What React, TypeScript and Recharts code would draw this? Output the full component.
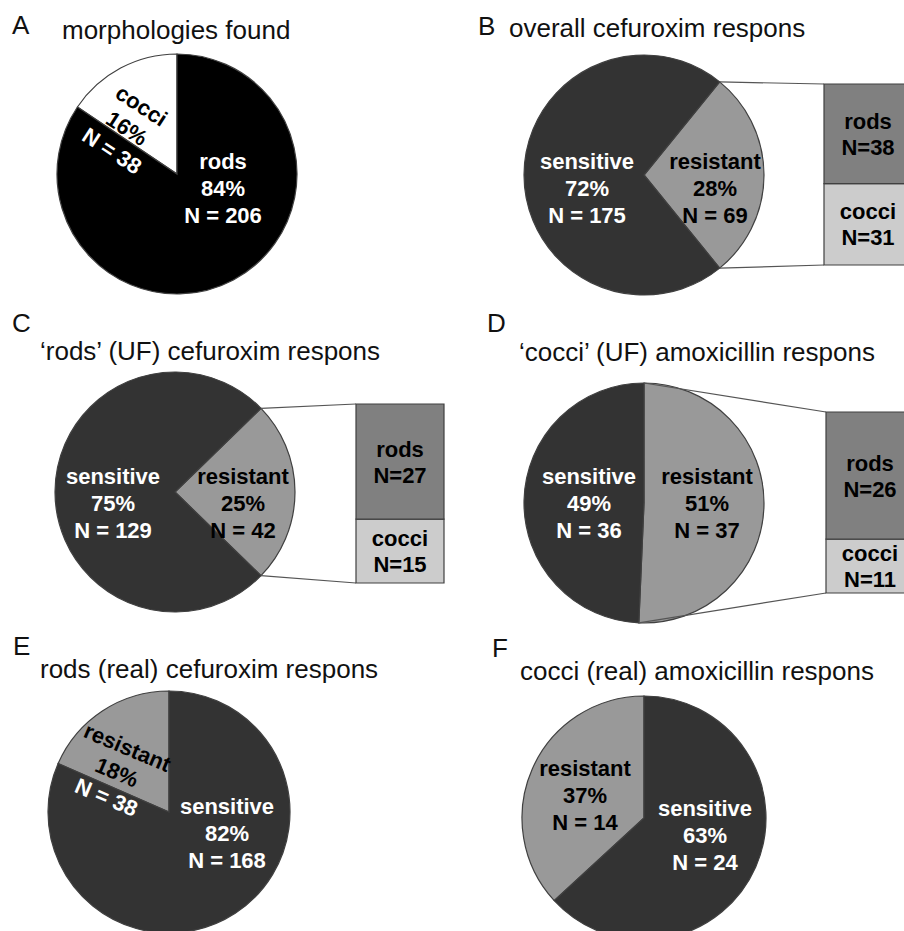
import React from 'react';
import { PieChart, Pie, Cell, BarChart, Bar, XAxis, YAxis, LabelList } from 'recharts';

const panelLetters = ['A', 'B', 'C', 'D', 'E', 'F'];
const panelTitles = [
  'morphologies found',
  'overall cefuroxim respons',
  '\u2018rods\u2019 (UF) cefuroxim respons',
  '\u2018cocci\u2019 (UF) amoxicillin respons',
  'rods (real) cefuroxim respons',
  'cocci (real) amoxicillin respons',
];

const morphologyNames = ['cocci', 'rods'];
const morphologyCounts = [38, 206];
const responseNames = ['resistant', 'sensitive'];
const overallCefCounts = [69, 175];
const rodsUfCefCounts = [42, 129];
const cocciUfAmoxCounts = [37, 36];
const rodsRealCefCounts = [38, 168];
const cocciRealAmoxCounts = [14, 24];
const splitNames = ['cocci', 'rods'];
const overallSplitCounts = [31, 38];
const rodsUfSplitCounts = [15, 27];
const cocciUfSplitCounts = [11, 26];

const FONT = '"Liberation Sans", Arial, sans-serif';
const RAD = Math.PI / 180;
const W = 904;
const H = 931;

// title positions (letter x/baseline, title x/baseline)
const titlePos = [
  { lx: 12, ly: 34, tx: 62, ty: 39 },
  { lx: 478, ly: 35, tx: 509, ty: 37 },
  { lx: 12, ly: 332, tx: 40, ty: 360 },
  { lx: 487, ly: 332, tx: 519, ty: 361 },
  { lx: 13, ly: 655, tx: 40, ty: 678 },
  { lx: 492, ly: 657, tx: 520, ty: 680 },
];

type LabelPos = { dx: number; dy: number; rot?: number; fills: string[] };
type Box = { x: number; y: number; w: number; h: number };
type PieCfg = {
  names: string[];
  counts: number[];
  fills: string[];
  cx: number;
  cy: number;
  r: number;
  mode: 'ccwTop' | 'cwTop' | 'centered';
  labels: LabelPos[];
  box?: Box;
};

const W3 = ['#fff', '#fff', '#fff'];
const B3 = ['#000', '#000', '#000'];
const RESP_FILLS = ['#999999', '#333333'];

const boxB: Box = { x: 824, y: 84, w: 88, h: 181 };
const boxC: Box = { x: 356, y: 404, w: 88, h: 179 };
const boxD: Box = { x: 826, y: 412, w: 88, h: 181 };

const pies: PieCfg[] = [
  {
    names: morphologyNames, counts: morphologyCounts, fills: ['#ffffff', '#000000'],
    cx: 177, cy: 174, r: 120, mode: 'ccwTop',
    labels: [{ dx: -50, dy: -46, rot: 33, fills: ['#000', '#000', '#fff'] }, { dx: 46, dy: 14, fills: W3 }],
  },
  {
    names: responseNames, counts: overallCefCounts, fills: RESP_FILLS,
    cx: 644, cy: 175, r: 120, mode: 'centered',
    labels: [{ dx: 71, dy: 13, fills: B3 }, { dx: -57, dy: 13, fills: W3 }], box: boxB,
  },
  {
    names: responseNames, counts: rodsUfCefCounts, fills: RESP_FILLS,
    cx: 175, cy: 492, r: 120, mode: 'centered',
    labels: [{ dx: 68, dy: 11, fills: B3 }, { dx: -62, dy: 11, fills: W3 }], box: boxC,
  },
  {
    names: responseNames, counts: cocciUfAmoxCounts, fills: RESP_FILLS,
    cx: 644, cy: 503, r: 120, mode: 'cwTop',
    labels: [{ dx: 63, dy: 0, fills: B3 }, { dx: -55, dy: 0, fills: W3 }], box: boxD,
  },
  {
    names: responseNames, counts: rodsRealCefCounts, fills: RESP_FILLS,
    cx: 169, cy: 812, r: 121, mode: 'ccwTop',
    labels: [{ dx: -52, dy: -40, rot: 23, fills: ['#000', '#000', '#fff'] }, { dx: 58, dy: 21, fills: W3 }],
  },
  {
    names: responseNames, counts: cocciRealAmoxCounts, fills: RESP_FILLS,
    cx: 644, cy: 818, r: 122, mode: 'ccwTop',
    labels: [{ dx: -59, dy: -23, fills: B3 }, { dx: 61, dy: 17, fills: W3 }],
  },
];

function angles(cfg: PieCfg) {
  if (cfg.mode === 'ccwTop') return [90, 450];
  if (cfg.mode === 'cwTop') return [90, -270];
  const total = cfg.counts.reduce((a, b) => a + b, 0);
  const start = (-180 * cfg.counts[0]) / total;
  return [start, start + 360];
}

const sliceLabel = (cfg: PieCfg) => (p: any) => {
  const { cx, cy, index, percent, startAngle, endAngle, outerRadius } = p;
  const lab = cfg.labels[index];
  const lines = [cfg.names[index], `${Math.round(percent * 100)}%`, `N = ${cfg.counts[index]}`];
  let connector = null;
  if (cfg.box && index === 0) {
    const pt = (a: number) => [cx + outerRadius * Math.cos(-a * RAD), cy + outerRadius * Math.sin(-a * RAD)];
    const [top, bot] = [pt(startAngle), pt(endAngle)].sort((a, b) => a[1] - b[1]);
    const b = cfg.box;
    connector = (
      <g stroke="#555" strokeWidth={1.2}>
        <line x1={top[0]} y1={top[1]} x2={b.x} y2={b.y} />
        <line x1={bot[0]} y1={bot[1]} x2={b.x} y2={b.y + b.h} />
      </g>
    );
  }
  return (
    <g>
      {connector}
      <g transform={`translate(${cx + lab.dx},${cy + lab.dy}) rotate(${lab.rot ?? 0})`}>
        {lines.map((t, i) => (
          <text key={i} x={0} y={(i - 1) * 27 + 8} textAnchor="middle" fontFamily={FONT}
            fontWeight="bold" fontSize={22} fill={lab.fills[i]} stroke="none">
            {t}
          </text>
        ))}
      </g>
    </g>
  );
};

function SplitBox({ box, counts }: { box: Box; counts: number[] }) {
  const row: Record<string, number | string> = { name: 'split' };
  splitNames.forEach((n, i) => { row[n] = counts[i]; });
  const fills = ['#cccccc', '#808080'];
  return (
    <div style={{ position: 'absolute', left: box.x - 1, top: box.y - 1 }}>
      <BarChart width={box.w + 2} height={box.h + 2} data={[row]} stackOffset="expand"
        barCategoryGap={0} margin={{ top: 1, right: 1, bottom: 1, left: 1 }}>
        <XAxis dataKey="name" hide />
        <YAxis type="number" hide domain={[0, 1]} />
        {splitNames.map((n, i) => (
          <Bar key={n} dataKey={n} stackId="s" fill={fills[i]} stroke="#404040" strokeWidth={1.2}
            isAnimationActive={false}>
            <LabelList
              content={(p: any) => {
                const vb = p.viewBox ?? p;
                const x = Number(vb.x) + Number(vb.width) / 2;
                const y = Number(vb.y) + Number(vb.height) / 2;
                return (
                  <g>
                    <text x={x} y={y - 13 + 8} textAnchor="middle" fontFamily={FONT} fontWeight="bold"
                      fontSize={22} fill="#000">{n}</text>
                    <text x={x} y={y + 13 + 8} textAnchor="middle" fontFamily={FONT} fontWeight="bold"
                      fontSize={22} fill="#000">{`N=${counts[i]}`}</text>
                  </g>
                );
              }}
            />
          </Bar>
        ))}
      </BarChart>
    </div>
  );
}

export default function App() {
  return (
    <div style={{ position: 'absolute', left: 0, top: 0, width: W, height: H, background: '#fff', overflow: 'hidden' }}>
      <PieChart width={W} height={H} margin={{ top: 0, right: 0, bottom: 0, left: 0 }}>
        {pies.map((cfg, k) => {
          const [start, end] = angles(cfg);
          const data = cfg.names.map((n, i) => ({ name: n, value: cfg.counts[i] }));
          return (
            <Pie key={k} data={data} dataKey="value" cx={cfg.cx} cy={cfg.cy} outerRadius={cfg.r}
              startAngle={start} endAngle={end} stroke="#404040" strokeWidth={1.2}
              labelLine={false} label={sliceLabel(cfg)} isAnimationActive={false}>
              {data.map((d, i) => <Cell key={d.name} fill={cfg.fills[i]} />)}
            </Pie>
          );
        })}
      </PieChart>
      <SplitBox box={boxB} counts={overallSplitCounts} />
      <SplitBox box={boxC} counts={rodsUfSplitCounts} />
      <SplitBox box={boxD} counts={cocciUfSplitCounts} />
      <svg width={W} height={H} style={{ position: 'absolute', left: 0, top: 0, pointerEvents: 'none' }}>
        {titlePos.map((t, i) => (
          <g key={i} fontFamily={FONT} fontSize={26} fill="#111">
            <text x={t.lx} y={t.ly}>{panelLetters[i]}</text>
            <text x={t.tx} y={t.ty}>{panelTitles[i]}</text>
          </g>
        ))}
      </svg>
    </div>
  );
}
